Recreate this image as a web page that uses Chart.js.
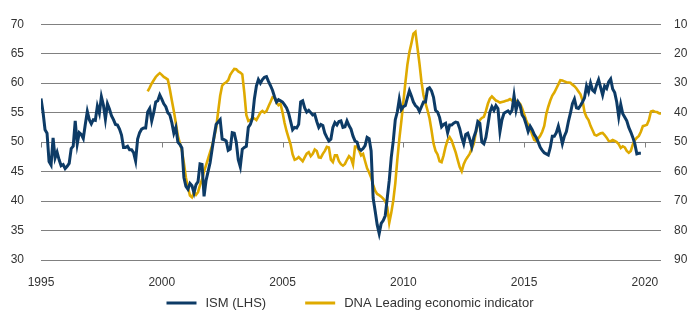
<!DOCTYPE html>
<html>
<head>
<meta charset="utf-8">
<script src="https://cdn.jsdelivr.net/npm/chart.js@4"></script>
<style>
  html, body { margin: 0; padding: 0; background: #fff; }
  #wrap { width: 700px; height: 322px; }
</style>
</head>
<body>
<div id="wrap"><canvas id="ismChart" width="700" height="322"></canvas></div>
<script>
// ISM manufacturing, monthly from Jan 1995 (left axis)
const ismStart = 1995;
const ismValues = [
  57.4, 55.1, 52.1, 51.5, 46.7, 46.1, 50.7, 47.3, 48.3, 47.0, 46.0, 46.2,
  45.5, 45.9, 46.4, 48.9, 49.3, 53.6, 49.7, 51.6, 51.3, 50.6, 53.0, 55.2,
  53.8, 53.1, 53.8, 53.7, 56.1, 54.9, 57.7, 56.3, 53.9, 56.5, 55.6, 54.5,
  53.8, 53.0, 52.9, 52.2, 51.2, 49.1, 49.1, 49.3, 48.7, 48.7, 48.2, 46.8,
  50.5, 51.6, 52.2, 52.4, 52.4, 55.1, 55.7, 53.6, 55.0, 56.8, 57.0, 58.0,
  57.3, 56.5, 56.0, 55.0, 54.6, 53.3, 51.5, 52.5, 50.0, 49.6, 49.0, 44.0,
  42.5, 42.0, 43.0, 42.6, 41.4, 42.8, 43.3, 46.3, 46.2, 40.8, 43.5, 45.0,
  46.5, 48.8, 51.0, 53.0, 53.4, 53.8, 50.5, 50.4, 50.2, 48.6, 48.8, 51.6,
  51.5, 50.0, 47.0, 45.8, 48.8, 49.1, 49.3, 52.5, 53.0, 54.0, 57.3, 59.5,
  60.6, 60.0, 60.6, 61.0, 61.1, 60.3, 59.6, 58.8, 57.7, 56.8, 57.2, 57.0,
  56.8, 56.3, 55.8, 54.9, 53.5, 52.1, 52.5, 52.4, 53.0, 56.8, 57.0, 55.8,
  55.1, 55.4, 55.0, 54.6, 54.7, 53.5, 52.5, 53.0, 52.8, 51.5, 50.8, 50.2,
  50.5, 52.5, 53.3, 52.9, 53.5, 53.6, 52.5, 52.6, 53.6, 52.8, 52.2, 51.0,
  50.2, 50.0, 48.9, 48.6, 48.9, 49.4, 50.8, 50.6, 48.5, 40.5, 38.3, 36.0,
  34.5, 36.2, 36.7, 37.5, 40.5, 43.5, 47.4, 50.2, 53.8, 55.1, 57.3, 55.5,
  56.0, 56.2, 57.5, 58.7, 57.8, 56.8, 56.2, 55.9, 55.2, 56.0, 56.8, 56.8,
  59.0, 59.2, 58.7, 57.6, 55.4, 55.1, 54.2, 52.6, 53.0, 53.2, 51.6, 52.9,
  52.9, 53.2, 53.4, 53.3, 52.3, 50.8, 49.7, 51.3, 51.5, 50.5, 49.2, 50.8,
  51.8, 53.5, 53.2, 50.0, 49.7, 50.8, 52.9, 55.1, 56.0, 55.4, 56.2, 55.7,
  51.8, 53.8, 54.9, 55.1, 55.3, 54.9, 55.4, 57.9, 55.4, 56.8, 56.2, 54.6,
  54.1, 53.0, 51.8, 52.7, 52.1, 51.3, 50.8, 50.0, 49.1, 48.6, 48.2, 48.0,
  47.8, 49.1, 51.0, 51.0, 51.6, 52.7, 51.3, 49.7, 51.0, 51.8, 53.5, 54.9,
  56.5, 57.3, 55.8, 55.7, 56.2, 56.8, 57.5, 59.5, 58.5, 60.0, 58.8, 58.5,
  59.7, 60.6, 59.3, 58.0, 59.5, 59.1, 60.2, 60.7, 59.0, 58.4, 56.8, 54.3,
  56.4, 54.8, 54.2, 53.6, 52.5, 51.7, 50.8, 49.7, 48.0, 48.1, 48.1
];

// DNA leading indicator, monthly from Jun 1999 (right axis, inverted)
const dnaStart = 1999 + 5 / 12;
const dnaValues = [
  32.8, 31.5, 30.1, 29.0, 27.9, 27.2, 26.6,
  27.2, 27.9, 28.3, 28.8, 32.1, 35.9, 39.5, 43.6, 47.9, 50.4, 52.8, 57.2,
  62.1, 65.4, 68.1, 68.7, 67.0, 67.9, 67.0, 64.6, 62.7, 59.9, 57.8, 55.6,
  53.4, 51.2, 48.5, 45.2, 39.7, 34.3, 30.8, 30.1, 29.7, 29.0, 27.2, 26.1,
  25.2, 25.3, 26.0, 26.4, 27.0, 33.2, 40.8, 42.8, 42.5, 41.9, 42.0, 42.5,
  41.3, 40.0, 39.4, 40.0, 39.5, 37.9, 36.4, 34.8, 35.0, 36.6, 37.5, 37.0,
  40.0, 43.5, 46.3, 48.6, 50.8, 54.2, 56.0, 55.7, 55.1, 55.8, 56.5, 55.2,
  53.9, 53.4, 54.8, 54.0, 52.5, 53.0, 55.2, 55.3, 54.0, 53.0, 51.6, 51.8,
  56.0, 56.8, 54.5, 54.5, 56.5, 57.5, 58.0, 57.4, 56.0, 54.8, 55.5, 57.6,
  51.5, 51.5, 52.8, 54.5, 54.0, 56.5, 58.9, 60.3, 62.0, 64.5, 66.5, 67.6,
  68.0, 68.5, 69.2, 70.0, 72.0, 77.4, 74.0, 69.8, 64.0, 56.0, 49.0, 43.0,
  36.4, 29.9, 23.8, 19.5, 16.5, 13.2, 12.6, 17.9, 23.3, 29.5, 34.0, 36.8,
  39.2, 41.9, 46.0, 50.5, 53.0, 54.2, 56.5, 56.8, 54.5, 51.5, 49.3, 48.3,
  49.5, 51.5, 53.5, 56.0, 58.5, 59.9, 57.5, 56.0, 55.0, 53.9, 52.3, 50.5,
  46.8, 44.0, 42.5, 41.8, 41.4, 39.5, 37.0, 35.3, 34.5, 35.2, 35.9, 36.2,
  36.6, 36.4, 36.2, 36.0, 35.8, 35.4, 35.9, 36.2, 36.0, 36.4, 37.0, 38.5,
  40.5, 42.5, 44.1, 45.5, 47.4, 49.2, 49.6, 48.8, 47.9, 46.5, 44.5, 40.5,
  38.0, 35.9, 34.2, 33.2, 31.8, 30.4, 29.0, 29.1, 29.4, 29.7, 29.8, 29.9,
  30.5, 31.0, 31.8, 32.8, 33.8, 35.8, 39.8, 41.5, 42.5, 44.5, 46.0, 47.5,
  47.8, 47.4, 47.0, 46.9, 47.6, 48.5, 49.6, 49.7, 49.3, 49.6, 50.0, 50.7,
  52.0, 51.4, 51.8, 53.0, 53.6, 53.0, 50.8, 49.3, 48.5, 47.9, 46.5, 44.6,
  44.4, 44.1, 42.5, 39.6, 39.4, 39.7, 39.8, 40.2, 40.4
];

const yearTicks = [1995, 2000, 2005, 2010, 2015, 2020];
const leftTicks = [30, 35, 40, 45, 50, 55, 60, 65, 70];
const rightTicks = [10, 20, 30, 40, 50, 60, 70, 80, 90];
const seriesNames = ['ISM (LHS)', 'DNA Leading economic indicator'];
const seriesColors = ['#0d3b66', '#dfaa00'];

const toPoints = (start, values) => values.map((v, i) => ({ x: start + i / 12, y: v }));
const xMax = dnaStart + (dnaValues.length - 1) / 12;

const textColor = '#333333';
const gridColor = '#808080';
const fontFamily = '"Liberation Sans", Arial, sans-serif';

// little ticks hanging off the 50 line for each year label
const yearMarks = {
  id: 'yearMarks',
  beforeDatasetsDraw(chart) {
    const { ctx, scales } = chart;
    const y0 = Math.round(scales.y.getPixelForValue(50)) + 0.5;
    ctx.save();
    ctx.strokeStyle = gridColor;
    ctx.lineWidth = 1;
    yearTicks.forEach(v => {
      const x0 = Math.round(scales.x.getPixelForValue(v)) + 0.5;
      ctx.beginPath();
      ctx.moveTo(x0, y0);
      ctx.lineTo(x0, y0 + 5);
      ctx.stroke();
    });
    ctx.restore();
  }
};

// legend row under the axis: short line + label per series
const lineLegend = {
  id: 'lineLegend',
  afterDraw(chart) {
    const { ctx } = chart;
    const lineLen = 30, textGap = 9, itemGap = 39, yMid = 303;
    ctx.save();
    ctx.font = '13px ' + fontFamily;
    const widths = seriesNames.map(n => lineLen + textGap + ctx.measureText(n).width);
    const total = widths.reduce((a, b) => a + b, 0) + itemGap * (widths.length - 1);
    let x = (chart.width - total) / 2;
    seriesNames.forEach((name, i) => {
      ctx.strokeStyle = seriesColors[i];
      ctx.lineWidth = 3;
      ctx.beginPath();
      ctx.moveTo(x, yMid);
      ctx.lineTo(x + lineLen, yMid);
      ctx.stroke();
      ctx.fillStyle = textColor;
      ctx.textBaseline = 'middle';
      ctx.textAlign = 'left';
      ctx.fillText(name, x + lineLen + textGap, yMid);
      x += widths[i] + itemGap;
    });
    ctx.restore();
  }
};

const ctx = document.getElementById('ismChart').getContext('2d');

new Chart(ctx, {
  type: 'line',
  data: {
    datasets: [{
      label: seriesNames[0],
      data: toPoints(ismStart, ismValues),
      borderColor: seriesColors[0],
      borderWidth: 3,
      pointRadius: 0,
      tension: 0,
      yAxisID: 'y'
    }, {
      label: seriesNames[1],
      data: toPoints(dnaStart, dnaValues),
      borderColor: seriesColors[1],
      borderWidth: 2.6,
      pointRadius: 0,
      tension: 0,
      yAxisID: 'y2'
    }]
  },
  options: {
    responsive: false,
    animation: false,
    layout: { padding: { top: 16, bottom: 28, left: 0, right: 0 } },
    plugins: {
      legend: { display: false },
      tooltip: { enabled: false }
    },
    scales: {
      x: {
        type: 'linear',
        min: ismStart,
        max: xMax,
        grid: { display: false },
        border: { display: false },
        afterBuildTicks: (scale) => { scale.ticks = yearTicks.map(v => ({ value: v })); },
        afterFit: (scale) => { scale.height = 34; },
        ticks: {
          autoSkip: false,
          maxRotation: 0,
          padding: 7,
          color: textColor,
          font: { family: fontFamily, size: 12 },
          callback: (v) => String(v)
        }
      },
      y: {
        position: 'left',
        min: 30,
        max: 70,
        afterBuildTicks: (scale) => { scale.ticks = leftTicks.map(v => ({ value: v })); },
        afterFit: (scale) => { scale.width = 41; },
        grid: { color: gridColor, lineWidth: 1, drawTicks: false },
        border: { display: false },
        ticks: {
          padding: 17,
          color: textColor,
          font: { family: fontFamily, size: 12 }
        }
      },
      y2: {
        position: 'right',
        min: 10,
        max: 90,
        reverse: true,
        afterBuildTicks: (scale) => { scale.ticks = rightTicks.map(v => ({ value: v })); },
        afterFit: (scale) => { scale.width = 39; },
        grid: { display: false, drawTicks: false },
        border: { display: false },
        ticks: {
          padding: 13,
          color: textColor,
          font: { family: fontFamily, size: 12 }
        }
      }
    }
  },
  plugins: [yearMarks, lineLegend]
});
</script>
</body>
</html>
